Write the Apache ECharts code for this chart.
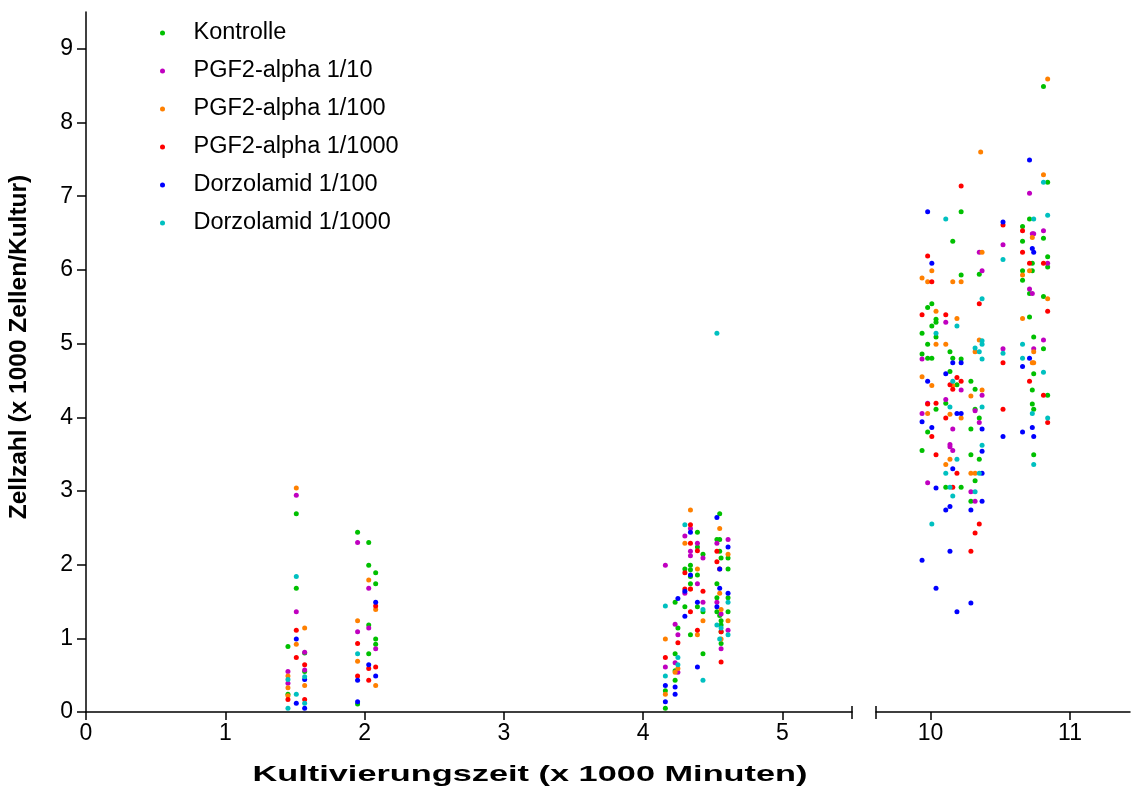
<!DOCTYPE html>
<html>
<head>
<meta charset="utf-8">
<script src="https://cdn.jsdelivr.net/npm/echarts@6/dist/echarts.min.js"></script>
<style>
html,body{margin:0;padding:0;background:#fff;}
#chart{width:1131px;height:790px;}
</style>
</head>
<body>
<div id="chart"></div>
<script>
// ---- Data (x in 1000 min, y in 1000 cells/culture) ----
const seriesNames = ['Kontrolle','PGF2-alpha 1/10','PGF2-alpha 1/100','PGF2-alpha 1/1000','Dorzolamid 1/100','Dorzolamid 1/1000'];
const seriesColors = ['#00c000','#c000c0','#ff8000','#ff0000','#0000ff','#00c0c0'];

const kontrolle = [
  [1.51,2.69],[1.51,1.68],[1.45,0.89],[1.57,0.80],[1.57,0.55],[1.45,0.24],
  [1.95,2.44],[2.03,2.30],[2.03,1.99],[2.08,1.89],[2.08,1.74],[2.03,1.18],[2.08,0.99],[2.08,0.92],[2.03,0.79],[1.95,0.11],
  [4.23,1.49],[4.25,1.14],[4.23,0.79],[4.23,0.56],[4.23,0.43],[4.16,0.29],[4.16,0.05],
  [4.39,2.44],[4.39,2.24],[4.43,2.14],[4.34,1.99],[4.30,1.94],[4.34,1.93],[4.34,1.84],[4.39,1.86],[4.34,1.74],[4.30,1.43],[4.39,1.43],[4.43,1.36],[4.34,1.05],[4.43,0.79],
  [4.55,2.69],[4.53,2.34],[4.55,2.34],[4.55,2.18],[4.56,2.09],[4.61,2.09],[4.61,1.94],[4.53,1.74],[4.53,1.55],[4.61,1.55],[4.53,1.36],[4.61,1.36],[4.55,1.31],[4.56,1.24],[4.56,1.18],[4.56,1.09],[4.56,0.93],
  [10.16,6.39],[10.01,5.54],[9.98,5.49],[10.04,5.33],[10.04,5.29],[10.01,5.24],[9.94,5.14],[10.04,5.09],[9.98,4.99],[10.14,4.89],[9.94,4.86],[9.98,4.80],[10.01,4.80],[10.16,4.80],[10.14,4.62],[10.11,4.19],[10.04,4.11],[9.98,3.80],[9.94,3.55],[10.11,3.05],
  [10.22,6.79],[10.35,5.94],[10.22,5.93],[10.22,4.79],[10.29,4.49],[10.19,4.44],[10.32,4.38],[10.32,4.11],[10.35,3.99],[10.29,3.84],[10.29,3.49],[10.35,3.43],[10.32,3.14],[10.22,3.05],[10.29,2.86],
  [10.81,8.49],[10.84,7.19],[10.71,6.69],[10.66,6.59],[10.81,6.43],[10.66,6.39],[10.84,6.18],[10.73,6.09],[10.84,6.04],[10.66,5.99],[10.73,5.99],[10.66,5.86],[10.71,5.68],[10.81,5.64],[10.71,5.36],[10.74,5.09],[10.81,4.93],[10.74,4.59],[10.73,4.37],[10.84,4.30],[10.73,4.18],[10.74,4.11],[10.74,3.49]
];
const pgf10 = [
  [1.51,2.94],[1.51,1.36],[1.57,0.81],[1.45,0.55],[1.57,0.57],[1.45,0.39],
  [1.95,2.30],[2.03,1.68],[1.95,1.09],[2.03,1.14],[2.08,0.86],
  [4.16,1.99],[4.23,1.19],[4.25,1.05],[4.23,0.67],[4.16,0.61],[4.25,0.54],
  [4.34,2.49],[4.30,2.39],[4.39,2.29],[4.34,2.18],[4.34,2.12],[4.43,2.09],[4.39,1.74],[4.30,1.61],[4.43,1.49],
  [4.61,2.34],[4.53,2.29],[4.53,1.49],[4.56,1.33],[4.61,1.11],[4.56,0.86],
  [10.11,5.29],[9.94,4.79],[10.11,4.24],[9.98,4.19],[9.94,4.05],[10.16,3.84],[10.14,3.63],[10.14,3.60],[10.16,3.55],[9.98,3.11],
  [10.35,6.24],[10.37,5.99],[10.22,4.37],[10.37,4.30],[10.32,4.09],[10.35,3.93],[10.29,2.99],[10.32,2.86],
  [10.52,6.34],[10.52,4.93],
  [10.71,7.04],[10.81,6.53],[10.73,6.49],[10.74,6.49],[10.84,6.09],[10.71,5.74],[10.73,5.68],[10.81,5.05],[10.74,4.93]
];
const pgf100 = [
  [1.51,3.04],[1.57,1.14],[1.51,0.92],[1.45,0.49],[1.57,0.36],[1.45,0.33],[1.45,0.22],
  [2.03,1.79],[2.08,1.39],[1.95,1.24],[1.95,0.69],[2.08,0.36],
  [4.16,0.99],[4.25,0.59],[4.23,0.54],[4.16,0.24],
  [4.34,2.74],[4.30,2.29],[4.39,1.94],[4.34,1.67],[4.43,1.24],[4.39,1.05],
  [4.55,2.49],[4.61,2.14],[4.55,1.61],[4.56,1.39],[4.61,1.24],[4.56,0.99],
  [10.01,5.99],[9.94,5.89],[9.98,5.84],[10.16,5.84],[10.04,5.44],[10.04,4.99],[10.11,4.99],[9.94,4.55],[10.01,4.43],[10.16,4.43],[9.98,4.05],[10.14,4.04],[10.14,3.43],[10.11,3.36],
  [10.36,7.60],[10.37,6.24],[10.22,5.84],[10.19,5.34],[10.35,5.05],[10.32,4.89],[10.37,4.37],[10.29,4.29],[10.22,3.99],[10.29,3.24],[10.32,3.24],
  [10.84,8.59],[10.81,7.29],[10.73,6.44],[10.71,5.99],[10.66,5.93],[10.84,5.61],[10.66,5.34],[10.74,4.89],[10.73,4.74],[10.74,4.74]
];
const pgf1000 = [
  [1.51,1.11],[1.51,0.74],[1.57,0.64],[1.45,0.17],[1.57,0.17],
  [2.08,1.44],[1.95,0.93],[2.03,0.59],[2.08,0.61],[1.95,0.49],[2.03,0.43],
  [4.25,0.94],[4.16,0.74],
  [4.34,2.54],[4.34,2.29],[4.39,2.19],[4.30,1.89],[4.30,1.67],[4.34,1.67],[4.43,1.64],[4.34,1.36],[4.39,1.11],
  [4.53,2.18],[4.53,2.04],[4.55,1.94],[4.56,1.09],[4.56,0.68],
  [9.98,6.19],[10.01,5.84],[9.94,5.39],[10.11,5.39],[10.14,4.44],[10.16,4.38],[10.04,4.19],[9.98,4.18],[10.11,3.99],[10.01,3.74],[10.04,3.49],[10.16,3.05],
  [10.22,7.14],[10.35,5.54],[10.19,4.54],[10.22,4.49],[10.19,3.24],[10.35,2.55],[10.32,2.43],[10.29,2.18],
  [10.52,6.61],[10.52,4.74],[10.52,4.11],
  [10.66,6.53],[10.66,6.24],[10.71,6.09],[10.81,6.09],[10.84,5.44],[10.71,4.49],[10.81,4.30],[10.84,3.93]
];
const dorz100 = [
  [1.51,0.99],[1.57,0.44],[1.51,0.12],[1.57,0.05],
  [2.08,1.49],[2.03,0.64],[1.95,0.43],[2.08,0.49],[1.95,0.14],
  [4.25,1.54],[4.16,0.36],[4.23,0.34],[4.23,0.24],[4.16,0.14],
  [4.34,2.44],[4.34,1.86],[4.30,1.64],[4.39,1.49],[4.30,1.30],[4.39,0.61],
  [4.53,2.64],[4.61,2.24],[4.55,1.94],[4.55,1.68],[4.61,1.61],[4.53,1.43],
  [9.98,6.79],[10.01,6.09],[10.16,4.74],[10.11,4.59],[9.98,4.49],[9.94,3.94],[10.01,3.86],[10.16,3.30],[10.04,3.04],[10.14,2.79],[10.11,2.74],[10.14,2.18],[9.94,2.06],[10.04,1.68],
  [10.22,4.74],[10.19,4.05],[10.22,4.05],[10.37,3.84],[10.37,3.54],[10.37,3.24],[10.37,2.86],[10.29,2.74],[10.29,1.48],[10.19,1.36],
  [10.52,6.65],[10.52,3.74],
  [10.71,7.49],[10.73,6.29],[10.74,6.24],[10.71,4.80],[10.66,4.69],[10.73,3.86],[10.66,3.80],[10.74,3.74]
];
const dorz1000 = [
  [1.51,1.84],[1.57,0.48],[1.45,0.44],[1.51,0.24],[1.57,0.12],[1.45,0.05],
  [1.95,0.79],
  [4.16,1.44],[4.25,0.74],[4.25,0.64],[4.16,0.49],
  [4.30,2.54],[4.43,1.39],[4.43,0.43],
  [4.53,5.14],[4.61,1.49],[4.53,1.18],[4.56,1.14],[4.61,1.05],[4.55,0.99],
  [10.11,6.69],[10.04,5.14],[10.16,4.49],[10.14,4.14],[10.11,3.24],[10.14,3.05],[10.16,2.93],[10.01,2.55],
  [10.37,5.61],[10.19,5.24],[10.37,5.04],[10.37,4.99],[10.32,4.94],[10.35,4.89],[10.37,4.79],[10.37,4.14],[10.37,3.62],[10.19,3.43],[10.35,3.24],[10.32,2.99],
  [10.52,6.14],[10.52,4.87],
  [10.81,7.19],[10.84,6.74],[10.74,6.69],[10.66,4.99],[10.66,4.80],[10.81,4.61],[10.73,4.05],[10.84,3.99],[10.74,3.36]
];
const allData = [kontrolle, pgf10, pgf100, pgf1000, dorz100, dorz1000];

const xTicksLeft = [0,1,2,3,4,5];
const xTicksRight = [10,11];
const yTicks = [0,1,2,3,4,5,6,7,8,9];
const xTitle = 'Kultivierungszeit (x 1000 Minuten)';
const yTitle = 'Zellzahl (x 1000 Zellen/Kultur)';

// ---- Chart ----
const FONT = '"Liberation Sans", Arial, sans-serif';
const chart = echarts.init(document.getElementById('chart'), null, {renderer:'canvas'});
const axisLineStyle = {color:'#000', width:1.5};

const series = [];
allData.forEach((d, i) => {
  series.push({
    name: seriesNames[i], type:'scatter', xAxisIndex:0, yAxisIndex:0,
    data: d.filter(p => p[0] < 7), symbolSize:5,
    itemStyle:{color:seriesColors[i], opacity:1}, emphasis:{disabled:true}
  });
  series.push({
    name: seriesNames[i], type:'scatter', xAxisIndex:1, yAxisIndex:1,
    data: d.filter(p => p[0] >= 7), symbolSize:5,
    itemStyle:{color:seriesColors[i], opacity:1}, emphasis:{disabled:true}
  });
});

const labelStyle = {color:'#000', fontSize:23, fontFamily:FONT};

chart.setOption({
  animation:false,
  backgroundColor:'#fff',
  grid:[
    {left:86, top:12, width:766, height:700},
    {left:876, top:12, width:254, height:700}
  ],
  xAxis:[
    {type:'value', gridIndex:0, min:0, max:5.5,
     axisLine:{show:true, lineStyle:axisLineStyle, onZero:false},
     axisTick:{show:true, length:8, lineStyle:axisLineStyle, customValues:xTicksLeft},
     axisLabel:Object.assign({margin:10, customValues:xTicksLeft}, labelStyle),
     splitLine:{show:false}},
    {type:'value', gridIndex:1, min:9.61, max:11.43,
     axisLine:{show:true, lineStyle:axisLineStyle, onZero:false},
     axisTick:{show:true, length:8, lineStyle:axisLineStyle, customValues:xTicksRight},
     axisLabel:Object.assign({margin:10, customValues:xTicksRight}, labelStyle),
     splitLine:{show:false}}
  ],
  yAxis:[
    {type:'value', gridIndex:0, min:0, max:9.5,
     axisLine:{show:true, lineStyle:axisLineStyle, onZero:false},
     axisTick:{show:true, length:9, lineStyle:axisLineStyle, customValues:yTicks},
     axisLabel:Object.assign({margin:13, customValues:yTicks}, labelStyle),
     splitLine:{show:false}},
    {type:'value', gridIndex:1, min:0, max:9.5, show:false}
  ],
  legend:{
    orient:'vertical', left:155, top:16, itemWidth:52, itemHeight:5, itemGap:14,
    icon:'circle', selectedMode:false,
    textStyle:{fontSize:23.5, fontFamily:FONT, color:'#000', lineHeight:22},
    data: seriesNames
  },
  series: series
});

// break marks + axis titles
const pL = chart.convertToPixel({xAxisIndex:0, yAxisIndex:0}, [5.5, 0]);
const pR = chart.convertToPixel({xAxisIndex:1, yAxisIndex:1}, [9.61, 0]);
chart.setOption({
  graphic:[
    {type:'line', shape:{x1:pL[0], y1:pL[1]-6, x2:pL[0], y2:pL[1]+7}, style:{stroke:'#000', lineWidth:1.5}},
    {type:'line', shape:{x1:pR[0], y1:pR[1]-6, x2:pR[0], y2:pR[1]+7}, style:{stroke:'#000', lineWidth:1.5}},
    {type:'text', x:530, y:775, scaleX:1.56, style:{text:xTitle, font:'bold 22px '+FONT, fill:'#000', align:'center', verticalAlign:'middle'}},
    {type:'text', x:19, y:347, rotation:Math.PI/2, style:{text:yTitle, font:'bold 24.5px '+FONT, fill:'#000', align:'center', verticalAlign:'middle'}}
  ]
});
</script>
</body>
</html>
